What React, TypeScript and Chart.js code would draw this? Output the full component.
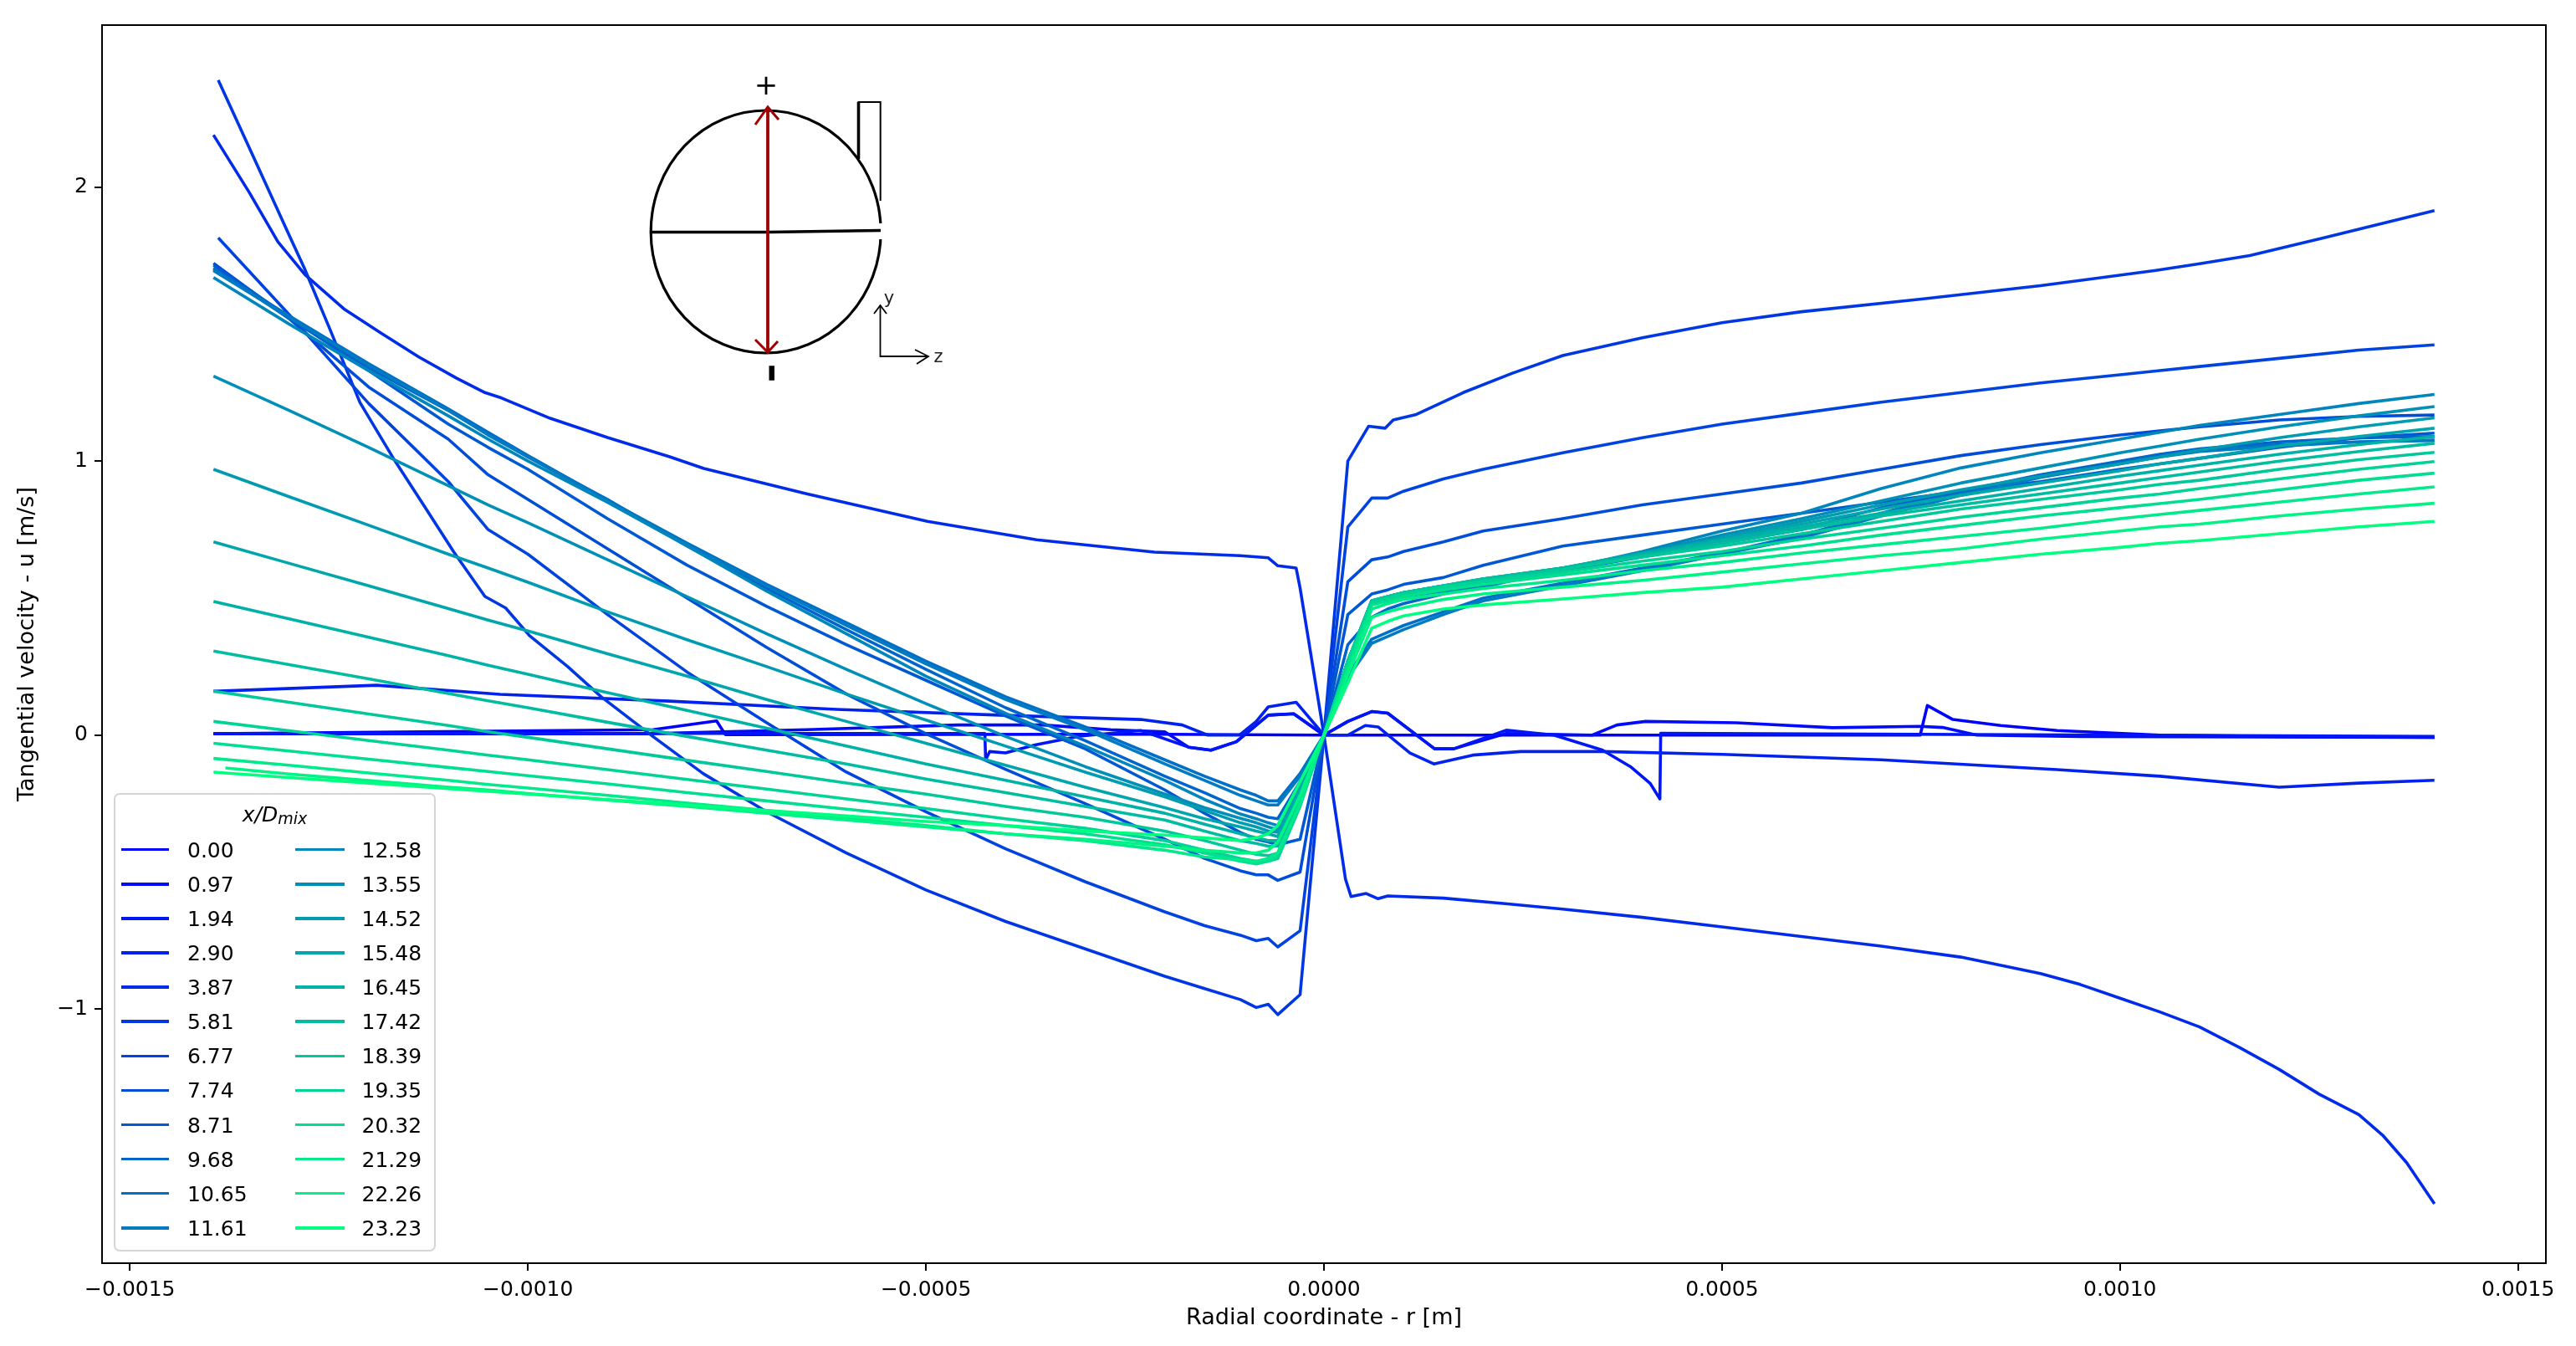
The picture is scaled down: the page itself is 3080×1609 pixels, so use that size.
import React, { useEffect, useRef } from "react";
import { Chart, registerables } from "chart.js";

Chart.register(...registerables);

const FONT = "'DejaVu Sans'";

const stationLabels = ["0.00","0.97","1.94","2.90","3.87","5.81","6.77","7.74","8.71","9.68","10.65","11.61","12.58","13.55","14.52","15.48","16.45","17.42","18.39","19.35","20.32","21.29","22.26","23.23"];
const xTicks = [-0.0015, -0.001, -0.0005, 0, 0.0005, 0.001, 0.0015];
const yTicks = [-1, 0, 1, 2];

// radial stations, millimetres
const radiusMm = [-1.395,-1.3,-1.2,-1.1,-1.05,-1.0,-0.9,-0.8,-0.7,-0.6,-0.5,-0.4,-0.3,-0.2,-0.15,-0.105,-0.085,-0.07,-0.058,-0.03,0,0.03,0.06,0.08,0.1,0.15,0.2,0.3,0.4,0.5,0.6,0.7,0.8,0.9,1.0,1.05,1.1,1.2,1.3,1.395];

const r00 = [-1.395,-0.843,-0.763,-0.752,-0.2,0,0.749,0.758,0.79,0.85,0.921,1.05,1.2,1.395];
const s00 = [0.005,0.02,0.052,0.002,0.003,0,0,0.108,0.057,0.035,0.017,0,-0.005,-0.008];
const r01 = [-1.395,-0.85,-0.65,-0.46,-0.353,-0.268,-0.2,-0.17,-0.142,-0.11,-0.07,-0.038,0,0.03,0.06,0.08,0.139,0.163,0.229,0.337,0.368,0.404,0.518,0.639,0.748,0.777,0.82,0.95,1.395];
const s01 = [0.005,0.005,0.02,0.037,0.037,0.02,0.012,-0.044,-0.055,-0.024,0.073,0.078,0,0.05,0.086,0.08,-0.05,-0.05,0.006,0,0.037,0.05,0.045,0.027,0.032,0.028,0,-0.005,-0.008];
const r02 = [-1.395,-0.426,-0.425,-0.42,-0.4,-0.363,-0.307,-0.23,-0.17,-0.142,-0.11,-0.07,-0.038,0,0.03,0.06,0.08,0.139,0.163,0.229,0.289,0.35,0.385,0.41,0.422,0.423,1.395];
const s02 = [0.006,0.006,-0.09,-0.06,-0.065,-0.036,-0.004,0.017,-0.044,-0.055,-0.024,0.073,0.078,0,0.05,0.086,0.08,-0.05,-0.05,0.018,0,-0.055,-0.115,-0.177,-0.233,0.007,-0.005];
const r03 = [-1.395,-1.19,-1.035,-0.822,-0.612,-0.4,-0.23,-0.178,-0.146,-0.106,-0.085,-0.07,-0.035,0,0.03,0.052,0.068,0.108,0.138,0.187,0.247,0.35,0.5,0.7,0.921,1.05,1.2,1.3,1.395];
const s03 = [0.16,0.182,0.149,0.124,0.094,0.072,0.057,0.037,0,0,0.05,0.103,0.12,0,0,0.035,0.03,-0.065,-0.105,-0.073,-0.06,-0.06,-0.07,-0.09,-0.126,-0.15,-0.19,-0.175,-0.165];
const r04 = [-1.395,-1.35,-1.314,-1.28,-1.23,-1.184,-1.137,-1.09,-1.054,-1.033,-0.972,-0.9,-0.822,-0.779,-0.65,-0.498,-0.361,-0.213,-0.105,-0.07,-0.058,-0.035,-0.03,0,0.027,0.034,0.053,0.068,0.08,0.15,0.228,0.3,0.4,0.5,0.6,0.7,0.8,0.9,0.95,1.0,1.05,1.1,1.15,1.2,1.25,1.3,1.33,1.36,1.395];
const s04 = [2.19,1.98,1.8,1.68,1.553,1.466,1.38,1.303,1.25,1.23,1.156,1.086,1.016,0.973,0.881,0.78,0.713,0.668,0.655,0.647,0.618,0.61,0.537,0,-0.525,-0.589,-0.578,-0.597,-0.587,-0.595,-0.615,-0.635,-0.665,-0.7,-0.735,-0.77,-0.81,-0.87,-0.91,-0.96,-1.01,-1.065,-1.14,-1.22,-1.31,-1.385,-1.46,-1.56,-1.71];
const r05 = [-1.389,-1.34,-1.3,-1.281,-1.25,-1.211,-1.169,-1.13,-1.093,-1.054,-1.028,-0.998,-0.95,-0.908,-0.843,-0.78,-0.7,-0.6,-0.5,-0.4,-0.3,-0.2,-0.15,-0.105,-0.085,-0.07,-0.058,-0.03,0,0.03,0.056,0.077,0.087,0.116,0.175,0.236,0.3,0.4,0.5,0.6,0.753,0.9,1.045,1.1,1.163,1.254,1.395];
const s05 = [2.39,2.08,1.825,1.705,1.49,1.214,1.01,0.835,0.668,0.506,0.464,0.363,0.25,0.14,-0.005,-0.14,-0.28,-0.43,-0.565,-0.68,-0.78,-0.88,-0.925,-0.965,-0.994,-0.982,-1.02,-0.947,0,1.0,1.127,1.12,1.15,1.17,1.25,1.32,1.385,1.45,1.505,1.545,1.592,1.64,1.696,1.72,1.75,1.813,1.914];

const s06 = [1.815,1.535,1.21,0.925,0.75,0.66,0.44,0.23,0.045,-0.135,-0.28,-0.415,-0.535,-0.645,-0.695,-0.73,-0.75,-0.742,-0.773,-0.714,0,0.76,0.865,0.865,0.89,0.935,0.97,1.03,1.085,1.135,1.175,1.215,1.25,1.285,1.315,1.33,1.345,1.375,1.405,1.424];
const s07 = [1.722,1.52,1.27,1.08,0.95,0.86,0.68,0.5,0.32,0.15,0.005,-0.125,-0.25,-0.38,-0.45,-0.495,-0.51,-0.51,-0.53,-0.5,0,0.56,0.64,0.65,0.67,0.705,0.745,0.79,0.84,0.88,0.92,0.97,1.02,1.06,1.095,1.11,1.125,1.15,1.163,1.168];
const s08 = [1.715,1.525,1.33,1.135,1.05,0.97,0.79,0.62,0.47,0.33,0.2,0.07,-0.05,-0.2,-0.285,-0.355,-0.38,-0.39,-0.4,-0.38,0,0.44,0.515,0.53,0.55,0.575,0.62,0.69,0.73,0.77,0.81,0.85,0.89,0.925,0.97,0.99,1.01,1.05,1.085,1.102];
const s09 = [1.705,1.52,1.34,1.185,1.1,1.015,0.86,0.69,0.535,0.385,0.24,0.1,-0.02,-0.15,-0.21,-0.268,-0.285,-0.3,-0.305,-0.17,0,0.33,0.43,0.46,0.48,0.515,0.55,0.6,0.65,0.7,0.75,0.83,0.89,0.95,1.0,1.025,1.045,1.07,1.085,1.09];
const s10 = [1.7,1.53,1.355,1.19,1.105,1.02,0.857,0.7,0.55,0.41,0.27,0.14,0.03,-0.09,-0.15,-0.2,-0.22,-0.24,-0.24,-0.14,0,0.22,0.35,0.375,0.4,0.45,0.5,0.555,0.61,0.665,0.73,0.81,0.885,0.945,0.995,1.02,1.04,1.06,1.07,1.077];
const s11 = [1.695,1.525,1.35,1.185,1.095,1.015,0.855,0.695,0.545,0.4,0.26,0.13,0.02,-0.105,-0.165,-0.22,-0.24,-0.255,-0.255,-0.15,0,0.21,0.335,0.36,0.385,0.44,0.49,0.545,0.6,0.66,0.72,0.8,0.875,0.94,0.99,1.015,1.035,1.055,1.07,1.075];
const s12 = [1.67,1.5,1.33,1.165,1.08,1.0,0.85,0.69,0.525,0.37,0.215,0.08,-0.04,-0.165,-0.235,-0.288,-0.305,-0.32,-0.33,-0.17,0,0.27,0.48,0.495,0.505,0.525,0.54,0.605,0.67,0.745,0.81,0.9,0.975,1.03,1.08,1.105,1.13,1.17,1.21,1.243];
const s13 = [1.31,1.185,1.05,0.91,0.84,0.775,0.64,0.505,0.37,0.24,0.115,-0.005,-0.115,-0.215,-0.265,-0.304,-0.32,-0.335,-0.345,-0.18,0,0.27,0.49,0.505,0.52,0.54,0.555,0.605,0.665,0.73,0.79,0.855,0.92,0.975,1.03,1.055,1.08,1.125,1.165,1.199];
const s14 = [0.97,0.87,0.766,0.66,0.61,0.558,0.45,0.348,0.25,0.15,0.055,-0.04,-0.135,-0.225,-0.275,-0.32,-0.335,-0.35,-0.355,-0.19,0,0.27,0.49,0.505,0.52,0.545,0.565,0.61,0.665,0.72,0.78,0.84,0.895,0.945,0.99,1.015,1.04,1.085,1.125,1.158];
const s15 = [0.705,0.627,0.545,0.462,0.42,0.38,0.297,0.215,0.13,0.05,-0.03,-0.11,-0.19,-0.265,-0.305,-0.335,-0.35,-0.36,-0.37,-0.2,0,0.27,0.49,0.505,0.52,0.545,0.57,0.61,0.665,0.715,0.77,0.825,0.875,0.92,0.965,0.99,1.01,1.055,1.09,1.12];
const s16 = [0.488,0.424,0.357,0.29,0.255,0.222,0.155,0.09,0.025,-0.04,-0.105,-0.165,-0.225,-0.285,-0.325,-0.36,-0.375,-0.385,-0.385,-0.21,0,0.27,0.49,0.505,0.52,0.545,0.57,0.61,0.66,0.71,0.76,0.81,0.855,0.9,0.945,0.965,0.985,1.025,1.06,1.09];
const s17 = [0.307,0.257,0.205,0.152,0.125,0.1,0.047,-0.005,-0.055,-0.105,-0.16,-0.21,-0.26,-0.31,-0.35,-0.385,-0.395,-0.405,-0.405,-0.225,0,0.27,0.49,0.505,0.52,0.545,0.57,0.61,0.655,0.7,0.75,0.8,0.84,0.88,0.92,0.94,0.96,1.0,1.035,1.065];
const s18 = [0.16,0.12,0.077,0.035,0.012,-0.008,-0.05,-0.092,-0.133,-0.175,-0.215,-0.26,-0.3,-0.35,-0.385,-0.42,-0.435,-0.44,-0.43,-0.24,0,0.27,0.49,0.505,0.52,0.545,0.565,0.605,0.65,0.69,0.735,0.78,0.825,0.86,0.895,0.915,0.93,0.97,1.005,1.032];
const s19 = [0.05,0.016,-0.02,-0.055,-0.073,-0.09,-0.126,-0.162,-0.197,-0.233,-0.268,-0.305,-0.34,-0.385,-0.42,-0.45,-0.46,-0.46,-0.45,-0.26,0,0.27,0.485,0.5,0.515,0.54,0.56,0.595,0.635,0.67,0.715,0.755,0.795,0.83,0.865,0.88,0.9,0.935,0.97,0.998];
const s20 = [-0.03,-0.058,-0.088,-0.118,-0.133,-0.148,-0.178,-0.21,-0.24,-0.27,-0.3,-0.33,-0.36,-0.4,-0.43,-0.46,-0.47,-0.46,-0.44,-0.25,0,0.26,0.475,0.49,0.505,0.53,0.55,0.585,0.62,0.655,0.69,0.73,0.765,0.8,0.83,0.845,0.86,0.895,0.93,0.956];
const s21 = [-0.085,-0.11,-0.138,-0.165,-0.18,-0.193,-0.22,-0.248,-0.275,-0.303,-0.33,-0.36,-0.385,-0.42,-0.445,-0.455,-0.46,-0.45,-0.43,-0.25,0,0.24,0.46,0.48,0.495,0.515,0.535,0.565,0.6,0.63,0.665,0.695,0.725,0.755,0.79,0.805,0.82,0.85,0.88,0.906];
const s22 = [-0.12,-0.142,-0.166,-0.19,-0.2,-0.213,-0.237,-0.26,-0.285,-0.31,-0.335,-0.36,-0.38,-0.405,-0.42,-0.43,-0.43,-0.42,-0.39,-0.22,0,0.22,0.43,0.45,0.465,0.495,0.515,0.54,0.565,0.595,0.625,0.655,0.68,0.715,0.745,0.76,0.77,0.8,0.825,0.846];
const s23 = [-0.135,-0.155,-0.175,-0.195,-0.205,-0.215,-0.235,-0.255,-0.275,-0.295,-0.315,-0.33,-0.35,-0.365,-0.375,-0.385,-0.375,-0.36,-0.33,-0.17,0,0.19,0.39,0.415,0.435,0.46,0.475,0.497,0.52,0.54,0.57,0.6,0.63,0.66,0.685,0.7,0.71,0.735,0.76,0.78];

const ownGridSeries = [[r00, s00], [r01, s01], [r02, s02], [r03, s03], [r04, s04], [r05, s05]];
const sharedGridSeries = [s06,s07,s08,s09,s10,s11,s12,s13,s14,s15,s16,s17,s18,s19,s20,s21,s22,s23];
// a few profiles begin slightly inside the common first station
const firstStation: Record<number, number> = { 6: -1.389, 22: -1.38 };

const winter = (i: number) => {
  const t = i / 23;
  return `rgb(0,${Math.round(255 * t)},${Math.round(255 - 127.5 * t)})`;
};

const datasets = stationLabels.map((label, i) => {
  let data: { x: number; y: number }[];
  if (i < ownGridSeries.length) {
    const [rr, uu] = ownGridSeries[i];
    data = rr.map((r, k) => ({ x: r * 1e-3, y: uu[k] }));
  } else {
    data = radiusMm.map((r, k) => ({
      x: (k === 0 && firstStation[i] !== undefined ? firstStation[i] : r) * 1e-3,
      y: sharedGridSeries[i - ownGridSeries.length][k],
    }));
  }
  return {
    label,
    data,
    borderColor: winter(i),
    backgroundColor: winter(i),
    borderWidth: 3.6,
    pointRadius: 0,
    tension: 0,
    fill: false,
    borderJoinStyle: "round" as const,
    borderCapStyle: "butt" as const,
    order: 23 - i,
  };
});

const frame = {
  id: "frame",
  afterDatasetsDraw(c: any) {
    const { left, right, top, bottom } = c.chartArea;
    const g = c.ctx;
    g.save();
    g.strokeStyle = "#000";
    g.lineWidth = 2;
    g.strokeRect(left, top, right - left, bottom - top);
    g.restore();
  },
};

const fmtMinus = (s: string) => s.replace("-", "\u2212");

function Inset() {
  return (
    <svg width={3080} height={1609} style={{ position: "absolute", left: 0, top: 0, pointerEvents: "none" }}>
      <ellipse cx={915.7} cy={277} rx={137.5} ry={145} fill="none" stroke="#000" strokeWidth={3.2} />
      <rect x={1048} y={267} width={9} height={19} fill="#fff" />
      <path d="M 778 277.5 L 918 277.5 L 1053 275.5" fill="none" stroke="#000" strokeWidth={3.6} />
      <path d="M 1026.5 190 L 1026.5 122 L 1052.7 122 L 1052.7 240" fill="none" stroke="#000" strokeWidth={2} />
      <path d="M 1026.5 190 L 1026.5 122" fill="none" stroke="#000" strokeWidth={3.6} />
      <path d="M 918 128 L 918 421" fill="none" stroke="#a00000" strokeWidth={3.8} />
      <path d="M 903 149 L 918 128 L 931 143" fill="none" stroke="#a00000" strokeWidth={3} />
      <path d="M 903 406 L 918 421 L 930 408" fill="none" stroke="#a00000" strokeWidth={3} />
      <path d="M 1052.5 365 L 1052.5 426 L 1110 426" fill="none" stroke="#000" strokeWidth={1.8} />
      <path d="M 1045 375 L 1052.5 365 L 1060 375 M 1094 418 L 1110 426 L 1096 435" fill="none" stroke="#000" strokeWidth={1.8} />
      <text x={916} y={113} textAnchor="middle" fontFamily="DejaVu Sans" fontSize={34} fill="#000">+</text>
      <text transform="translate(917,446) rotate(90) scale(1,2)" textAnchor="middle" y={6} fontFamily="DejaVu Sans" fontWeight="bold" fontSize={28} fill="#000">{"\u2212"}</text>
      <text x={1063} y={363} textAnchor="middle" fontFamily="DejaVu Sans" fontSize={21} fill="#222">y</text>
      <text x={1122} y={433} textAnchor="middle" fontFamily="DejaVu Sans" fontSize={21} fill="#222">z</text>
    </svg>
  );
}

function Legend() {
  const rowTop = (k: number) => 1015.7 + 41.1 * k;
  return (
    <div style={{ position: "absolute", left: 136, top: 948, width: 385, height: 548, boxSizing: "border-box", border: "2px solid #d5d5d5", borderRadius: 7, background: "rgba(255,255,255,0.8)" }}>
      <div style={{ position: "absolute", left: 0, width: 381, top: 9, textAlign: "center", font: `italic 25px ${FONT}`, lineHeight: "30px", color: "#000" }}>
        x/D<sub style={{ fontSize: 19, verticalAlign: "-3px", lineHeight: 0 }}>mix</sub>
      </div>
      {stationLabels.map((label, i) => {
        const col = i < 12 ? 0 : 1;
        const row = i % 12;
        const y = rowTop(row) - 950;
        return (
          <React.Fragment key={label}>
            <div style={{ position: "absolute", left: (col ? 353 : 145) - 138, width: col ? 59 : 57, top: y - 1.8, height: 3.6, background: winter(i) }} />
            <div style={{ position: "absolute", left: (col ? 432.5 : 224) - 138, top: y - 14, font: `25px ${FONT}`, lineHeight: "30px", color: "#000", whiteSpace: "nowrap" }}>{label}</div>
          </React.Fragment>
        );
      })}
    </div>
  );
}

export default function App() {
  const ref = useRef<HTMLCanvasElement>(null);
  useEffect(() => {
    const chart = new Chart(ref.current as HTMLCanvasElement, {
      type: "line",
      data: { datasets: datasets as any },
      plugins: [frame],
      options: {
        animation: false,
        responsive: false,
        devicePixelRatio: 1,
        parsing: false,
        normalized: false,
        layout: { padding: { left: 0, top: 30, right: 36, bottom: 0 } },
        plugins: { legend: { display: false }, tooltip: { enabled: false }, title: { display: false } },
        scales: {
          x: {
            type: "linear",
            min: -0.001535,
            max: 0.001535,
            afterFit: (s: any) => { s.height = 99; },
            afterBuildTicks: (s: any) => { s.ticks = xTicks.map((value) => ({ value })); },
            grid: { display: true, drawOnChartArea: false, drawTicks: true, tickLength: 9, tickWidth: 2, tickColor: "#000", lineWidth: 2, color: "#000" },
            border: { display: true, color: "#000", width: 2 },
            ticks: {
              autoSkip: false, maxRotation: 0, minRotation: 0, padding: 8, color: "#000",
              font: { family: FONT, size: 25 },
              callback: (v: any) => fmtMinus(Number(v).toFixed(4)),
            },
            title: { display: true, text: "Radial coordinate - r [m]", color: "#000", font: { family: FONT, size: 27 }, padding: { top: 4, bottom: 17 } },
          },
          y: {
            type: "linear",
            min: -1.927,
            max: 2.591,
            afterFit: (s: any) => { s.width = 122; },
            afterBuildTicks: (s: any) => { s.ticks = yTicks.map((value) => ({ value })); },
            grid: { display: true, drawOnChartArea: false, drawTicks: true, tickLength: 9, tickWidth: 2, tickColor: "#000", lineWidth: 2, color: "#000" },
            border: { display: true, color: "#000", width: 2 },
            ticks: {
              autoSkip: false, padding: 8, color: "#000",
              font: { family: FONT, size: 25 },
              callback: (v: any) => fmtMinus(String(v)),
            },
            title: { display: true, text: "Tangential velocity - u [m/s]", color: "#000", font: { family: FONT, size: 27 }, padding: { top: 17, bottom: 4 } },
          },
        },
      },
    });
    return () => chart.destroy();
  }, []);
  return (
    <div style={{ position: "absolute", left: 0, top: 0, width: 3080, height: 1609, overflow: "hidden", background: "#fff", filter: "blur(0.5px)" }}>
      <canvas ref={ref} width={3080} height={1609} style={{ display: "block", width: 3080, height: 1609 }} />
      <Inset />
      <Legend />
    </div>
  );
}
